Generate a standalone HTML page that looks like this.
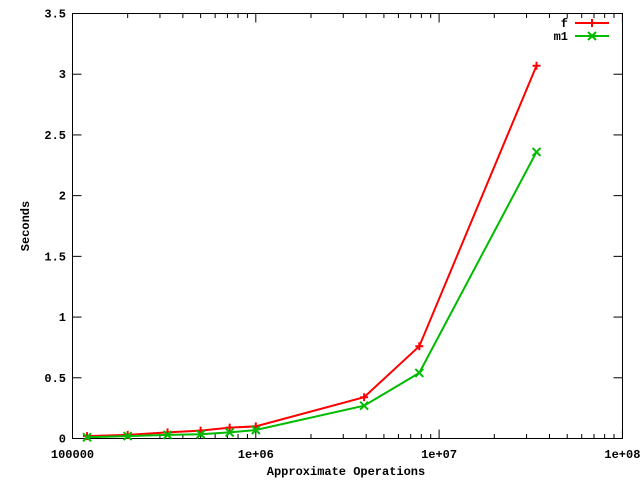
<!DOCTYPE html>
<html><head><meta charset="utf-8"><style>
body{margin:0;background:#fff}
svg text{font-family:"Liberation Mono",monospace;font-weight:bold;font-size:12px;fill:#000}
</style></head><body>
<svg id="chart" width="640" height="480" xmlns="http://www.w3.org/2000/svg">
<rect x="72.5" y="13.5" width="550" height="425" fill="none" stroke="#000" stroke-width="1"/>
<g id="axes"></g>
<g id="series"></g>
<text transform="translate(29,226) rotate(-90)" text-anchor="middle">Seconds</text>
<text x="346" y="475" text-anchor="middle">Approximate Operations</text>
<g>
<text x="568" y="27" text-anchor="end">f</text>
<line x1="575" y1="23" x2="609" y2="23" stroke="#f00" stroke-width="2"/>
<path d="M588,23h8M592,19v8" stroke="#f00" stroke-width="2"/>
<text x="568" y="40" text-anchor="end">m1</text>
<line x1="575" y1="36" x2="609" y2="36" stroke="#0b0" stroke-width="2"/>
<path d="M588,32l8,8M596,32l-8,8" stroke="#0b0" stroke-width="2"/>
</g>
</svg>
<script>
const xValues=[1.2e5,2e5,3.3e5,5e5,7.2e5,1e6,3.9e6,7.8e6,3.4e7];
const fValues=[0.02,0.03,0.05,0.065,0.09,0.10,0.34,0.76,3.07];
const m1Values=[0.01,0.02,0.03,0.035,0.05,0.07,0.27,0.54,2.36];
const yTicks=[0,0.5,1,1.5,2,2.5,3,3.5];
const yTickLabels=["0","0.5","1","1.5","2","2.5","3","3.5"];
const xTicks=[1e5,1e6,1e7,1e8];
const xTickLabels=["100000","1e+06","1e+07","1e+08"];
const NS="http://www.w3.org/2000/svg";
function xs(v){return 72.5+(Math.log10(v)-5)*183.3;}
function ys(v){return 438.5-v*121.43;}
function mk(t,a,p){const e=document.createElementNS(NS,t);for(const k in a)e.setAttribute(k,a[k]);p.appendChild(e);return e;}
const ax=document.getElementById('axes');
yTicks.forEach((v,i)=>{const y=ys(v);
 const t1=mk('line',{x1:72.5,x2:81.5,y1:y,y2:y,stroke:'#000'},ax);
 
 
 const t2=mk('line',{x1:613.5,x2:622.5,y1:y,y2:y,stroke:'#000'},ax);
 
 
 const l=mk('text',{x:66,y:y+4,'text-anchor':'end'},ax);l.textContent=yTickLabels[i];
 
 
});
xTicks.forEach((v,i)=>{const x=xs(v);
 const t1=mk('line',{x1:x,x2:x,y1:438.5,y2:429.5,stroke:'#000'},ax);
 
 
 const t2=mk('line',{x1:x,x2:x,y1:13.5,y2:22.5,stroke:'#000'},ax);
 
 
 const l=mk('text',{x:x,y:458,'text-anchor':'middle'},ax);l.textContent=xTickLabels[i];
 
 
 if(i<xTicks.length-1){for(let m=2;m<10;m++){const mx=xs(v*m);
  const a=mk('line',{x1:mx,x2:mx,y1:438.5,y2:434,stroke:'#000'},ax);
  
  
  const b=mk('line',{x1:mx,x2:mx,y1:13.5,y2:18,stroke:'#000'},ax);
  
  
 }}
});
const sg=document.getElementById('series');
function series(vals,color,name,cross){
 const pts=xValues.map((x,i)=>xs(x).toFixed(1)+','+ys(vals[i]).toFixed(1)).join(' ');
 const pl=mk('polyline',{points:pts,fill:'none',stroke:color,'stroke-width':2},sg);
 
 
 xValues.forEach((x,i)=>{const px=xs(x),py=ys(vals[i]);
  const d=cross?`M${px-4},${py-4}l8,8M${px+4},${py-4}l-8,8`:`M${px-4},${py}h8M${px},${py-4}v8`;
  const p=mk('path',{d:d,stroke:color,'stroke-width':2},sg);
  
  
 });
}
series(fValues,'#f00','f',false);
series(m1Values,'#0b0','m1',true);
</script>
</body></html>
